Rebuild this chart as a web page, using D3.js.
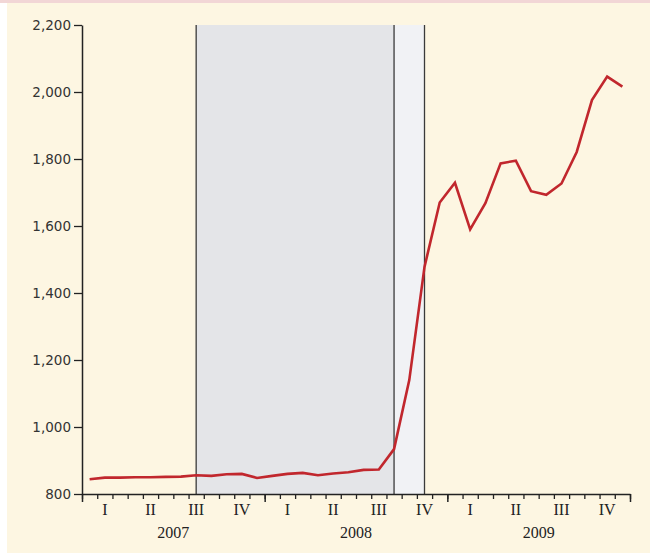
<!DOCTYPE html>
<html>
<head>
<meta charset="utf-8">
<script src="https://cdn.jsdelivr.net/npm/d3@7"></script>
<style>
  html, body { margin: 0; padding: 0; background: #ffffff; }
  svg { display: block; }
</style>
</head>
<body>
<svg id="chart" width="650" height="557"></svg>
<script>
// monthly values, Jan 2007 .. Dec 2009
const values = [
    844, 849, 849, 850, 850, 851, 852, 856, 854, 859, 860, 848,
    854, 860, 863, 856, 861, 865, 872, 873, 934, 1140, 1478, 1670,
    1729, 1590, 1668, 1787, 1795, 1704, 1693, 1727, 1821, 1976, 2046, 2016
];
const years = ['2007', '2008', '2009'];
const quarters = ['I', 'II', 'III', 'IV'];
const yTicks = [800, 1000, 1200, 1400, 1600, 1800, 2000, 2200];
// shaded periods in months from Jan 2007
const phaseStart = [7.5, 20.5];
const phaseEnd = [20.5, 22.5];
const phaseFill = ['#e4e5e8', '#f1f2f5'];

const svg = d3.select('#chart');
const W = 650, H = 557;

// background panel
svg.append('rect').attr('x', 0).attr('y', 0).attr('width', W).attr('height', H).attr('fill', '#ffffff');
svg.append('rect').attr('x', 7).attr('y', 0).attr('width', W - 7).attr('height', 553).attr('fill', '#fdf6e2');
svg.append('rect').attr('x', 0).attr('y', 0).attr('width', W).attr('height', 3).attr('fill', '#f2d6d6');

const x = d3.scaleLinear().domain([0, 36]).range([82, 630]);
const y = d3.scaleLinear().domain([800, 2200]).range([494, 25]);

// shaded phases
const phases = phaseStart.map((s, i) => ({ s, e: phaseEnd[i], fill: phaseFill[i] }));
svg.append('g')
    .selectAll('rect')
    .data(phases)
    .join('rect')
    .attr('x', d => x(d.s))
    .attr('y', y(2200))
    .attr('width', d => x(d.e) - x(d.s))
    .attr('height', y(800) - y(2200))
    .attr('fill', d => d.fill);

// phase borders
const edges = [...new Set([...phaseStart, ...phaseEnd])];
svg.append('g')
    .selectAll('line')
    .data(edges)
    .join('line')
    .attr('x1', d => x(d)).attr('x2', d => x(d))
    .attr('y1', y(2200)).attr('y2', y(800))
    .attr('stroke', '#3a3a3a')
    .attr('stroke-width', 1.3);

// line
const line = d3.line()
    .x((d, i) => x(i + 0.5))
    .y(d => y(d));

svg.append('path')
    .datum(values)
    .attr('d', line)
    .attr('fill', 'none')
    .attr('stroke', '#c1272d')
    .attr('stroke-width', 2.6)
    .attr('stroke-linejoin', 'miter');

// y axis
const yAxis = d3.axisLeft(y)
    .tickValues(yTicks)
    .tickSize(8)
    .tickSizeOuter(0)
    .tickPadding(3)
    .tickFormat(d3.format(','));

const gy = svg.append('g')
    .attr('transform', `translate(${x(0)},0)`)
    .call(yAxis);
gy.select('.domain').attr('stroke', '#222').attr('stroke-width', 1.5);
gy.selectAll('.tick line').attr('stroke', '#222').attr('stroke-width', 1.3);
gy.selectAll('.tick text')
    .attr('fill', '#333')
    .attr('font-family', 'DejaVu Sans, sans-serif')
    .attr('font-size', '13.5px');

// x axis: monthly ticks
const xAxis = d3.axisBottom(x)
    .tickValues(d3.range(0, 37))
    .tickSize(5)
    .tickSizeOuter(0)
    .tickFormat('');

const gx = svg.append('g')
    .attr('transform', `translate(0,${y(800)})`)
    .call(xAxis);
gx.select('.domain').attr('stroke', '#222').attr('stroke-width', 1.5);
gx.selectAll('.tick line').attr('stroke', '#222').attr('stroke-width', 1.3);

// year boundary ticks
const gxYears = svg.append('g')
    .attr('transform', `translate(0,${y(800)})`)
    .call(d3.axisBottom(x).tickValues(d3.range(0, 37, 12)).tickSize(8).tickFormat(''));
gxYears.select('.domain').remove();
gxYears.selectAll('.tick line').attr('stroke', '#222').attr('stroke-width', 1.5);

// quarter labels
const quarterData = years.flatMap((yr, yi) => quarters.map((q, qi) => ({ q, m: yi * 12 + qi * 3 + 1.5 })));
svg.append('g')
    .selectAll('text')
    .data(quarterData)
    .join('text')
    .attr('x', d => x(d.m))
    .attr('y', 515)
    .attr('text-anchor', 'middle')
    .attr('font-family', 'Liberation Serif, Times New Roman, serif')
    .attr('font-size', '16px')
    .attr('fill', '#222')
    .text(d => d.q);

// year labels
svg.append('g')
    .selectAll('text')
    .data(years)
    .join('text')
    .attr('x', (d, i) => x(i * 12 + 6))
    .attr('y', 538)
    .attr('text-anchor', 'middle')
    .attr('font-family', 'Liberation Serif, Times New Roman, serif')
    .attr('font-size', '16px')
    .attr('fill', '#222')
    .text(d => d);
</script>
</body>
</html>
